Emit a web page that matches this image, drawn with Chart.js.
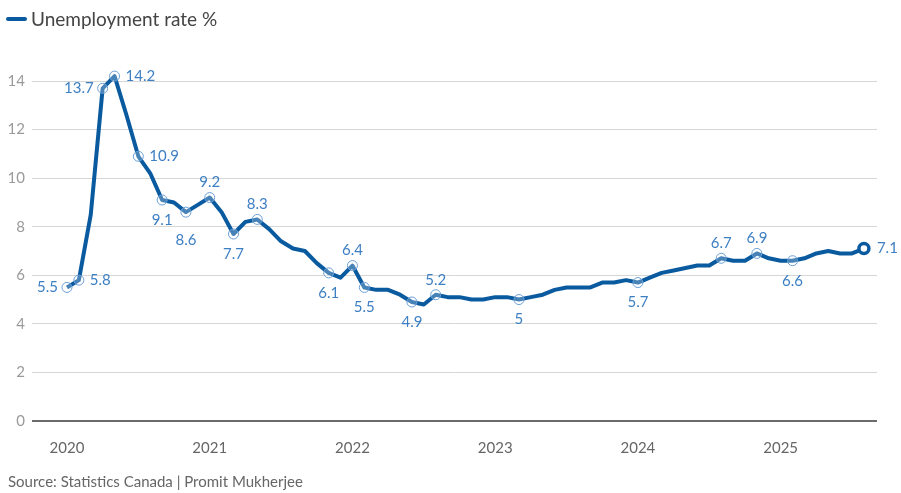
<!DOCTYPE html>
<html>
<head>
<meta charset="utf-8">
<script src="https://cdn.jsdelivr.net/npm/chart.js@4"></script>
<style>
  html, body { margin: 0; padding: 0; background: #fff; }
  #wrap { position: relative; width: 901px; height: 493px; font-family: Lato, sans-serif; }
  #legend { position: absolute; left: 6px; top: 7px; font-size: 19px; color: #444; }
  #legend span.sw { display: inline-block; width: 21px; height: 4px; background: #0a5a9f; border-radius: 2px; vertical-align: middle; margin-right: 4px; position: relative; top: -2px; }
  #source { position: absolute; left: 8px; top: 472px; font-size: 15px; color: #666; }
  #chart { position: absolute; left: 0; top: 0; }
</style>
</head>
<body>
<div id="wrap">
  <canvas id="chart" width="901" height="493"></canvas>
  <div id="legend"><span class="sw"></span>Unemployment rate %</div>
  <div id="source">Source: Statistics Canada | Promit Mukherjee</div>
</div>
<script>
// monthly values, Jan 2020 .. Aug 2025
var years = ['2020', '2021', '2022', '2023', '2024', '2025'];
var rate = [
  5.5, 5.8, 8.5, 13.7, 14.2, 12.6, 10.9, 10.2, 9.1, 9.0, 8.6, 8.9,   // 2020
  9.2, 8.6, 7.7, 8.2, 8.3, 7.9, 7.4, 7.1, 7.0, 6.5, 6.1, 5.9,        // 2021
  6.4, 5.5, 5.4, 5.4, 5.2, 4.9, 4.8, 5.2, 5.1, 5.1, 5.0, 5.0,        // 2022
  5.1, 5.1, 5.0, 5.1, 5.2, 5.4, 5.5, 5.5, 5.5, 5.7, 5.7, 5.8,        // 2023
  5.7, 5.9, 6.1, 6.2, 6.3, 6.4, 6.4, 6.7, 6.6, 6.6, 6.9, 6.7,        // 2024
  6.6, 6.6, 6.7, 6.9, 7.0, 6.9, 6.9, 7.1                             // 2025
];
var yTicks = [0, 2, 4, 6, 8, 10, 12, 14];
// months that get a value callout
var callouts = [0, 1, 3, 4, 6, 8, 10, 12, 14, 16, 22, 24, 25, 29, 31, 38, 48, 55, 58, 61, 67];

// where each callout text sits relative to its marker
var placement = {
  0: 'left', 1: 'right', 3: 'left', 4: 'right', 6: 'right', 8: 'below', 10: 'below2',
  12: 'above', 14: 'below', 16: 'above', 22: 'below', 24: 'above', 25: 'below',
  29: 'below', 31: 'above', 38: 'below', 48: 'below', 55: 'above', 58: 'above',
  61: 'below', 67: 'last'
};

var lineColor = '#0a5a9f';
var markColor = '#6a9fd6';
var labelColor = '#3d7fc3';
var last = rate.length - 1;

var points = [];
var radius = [];
var border = [];
var ringColor = [];
var ringFill = [];
for (var i = 0; i < rate.length; i++) {
  points.push({x: i, y: rate[i]});
  var isCall = callouts.indexOf(i) >= 0;
  radius.push(i === last ? 5 : (isCall ? 5 : 0));
  border.push(i === last ? 3.5 : 1);
  ringColor.push(i === last ? lineColor : markColor);
  ringFill.push(i === last ? '#fff' : 'rgba(255,255,255,0.25)');
}

var calloutPlugin = {
  id: 'callouts',
  afterDatasetsDraw: function(chart) {
    var ctx = chart.ctx;
    var xs = chart.scales.x, ys = chart.scales.y;
    ctx.save();
    ctx.font = '15px Lato, sans-serif';
    ctx.fillStyle = labelColor;
    ctx.textBaseline = 'middle';
    callouts.forEach(function(idx) {
      var px = xs.getPixelForValue(idx);
      var py = ys.getPixelForValue(rate[idx]);
      var txt = String(rate[idx]);
      var p = placement[idx];
      if (p === 'left') { ctx.textAlign = 'right'; ctx.fillText(txt, px - 9, py); }
      else if (p === 'right') { ctx.textAlign = 'left'; ctx.fillText(txt, px + 11, py); }
      else if (p === 'last') { ctx.textAlign = 'left'; ctx.fillText(txt, px + 13, py); }
      else if (p === 'above') { ctx.textAlign = 'center'; ctx.fillText(txt, px, py - 15); }
      else if (p === 'below2') { ctx.textAlign = 'center'; ctx.fillText(txt, px, py + 28); }
      else { ctx.textAlign = 'center'; ctx.fillText(txt, px, py + 20); }
    });
    ctx.restore();
  }
};

var chart = new Chart(document.getElementById('chart'), {
  type: 'line',
  data: {
    datasets: [{
      label: 'Unemployment rate %',
      data: points,
      borderColor: lineColor,
      borderWidth: 4,
      tension: 0,
      borderJoinStyle: 'round',
      clip: false,
      pointRadius: radius,
      pointBorderWidth: border,
      pointBorderColor: ringColor,
      pointBackgroundColor: ringFill,
      pointHoverRadius: radius
    }]
  },
  options: {
    responsive: false,
    animation: false,
    layout: { padding: { top: 81, right: 24, left: 0, bottom: 0 } },
    plugins: { legend: { display: false }, tooltip: { enabled: false } },
    scales: {
      x: {
        type: 'linear',
        min: -2.94,
        max: 68.1,
        afterFit: function(s) { s.height = 72; },
        afterBuildTicks: function(s) {
          s.ticks = years.map(function(y, k) { return {value: k * 12}; });
        },
        ticks: {
          autoSkip: false,
          maxRotation: 0,
          padding: 10,
          color: '#666',
          font: { family: 'Lato', size: 15 },
          callback: function(v) { return years[v / 12]; }
        },
        grid: { display: false },
        border: { display: false }
      },
      y: {
        min: 0,
        max: 14,
        afterFit: function(s) { s.width = 32; },
        afterBuildTicks: function(s) {
          s.ticks = yTicks.map(function(v) { return {value: v}; });
        },
        ticks: {
          padding: 7,
          color: '#9a9a9a',
          font: { family: 'Lato', size: 15 }
        },
        grid: {
          drawTicks: false,
          color: function(c) { return c.tick && c.tick.value === 0 ? '#6b6b6b' : '#d6d6d6'; },
          lineWidth: function(c) { return c.tick && c.tick.value === 0 ? 2 : 1; }
        },
        border: { display: false }
      }
    }
  },
  plugins: [calloutPlugin]
});
</script>
</body>
</html>
